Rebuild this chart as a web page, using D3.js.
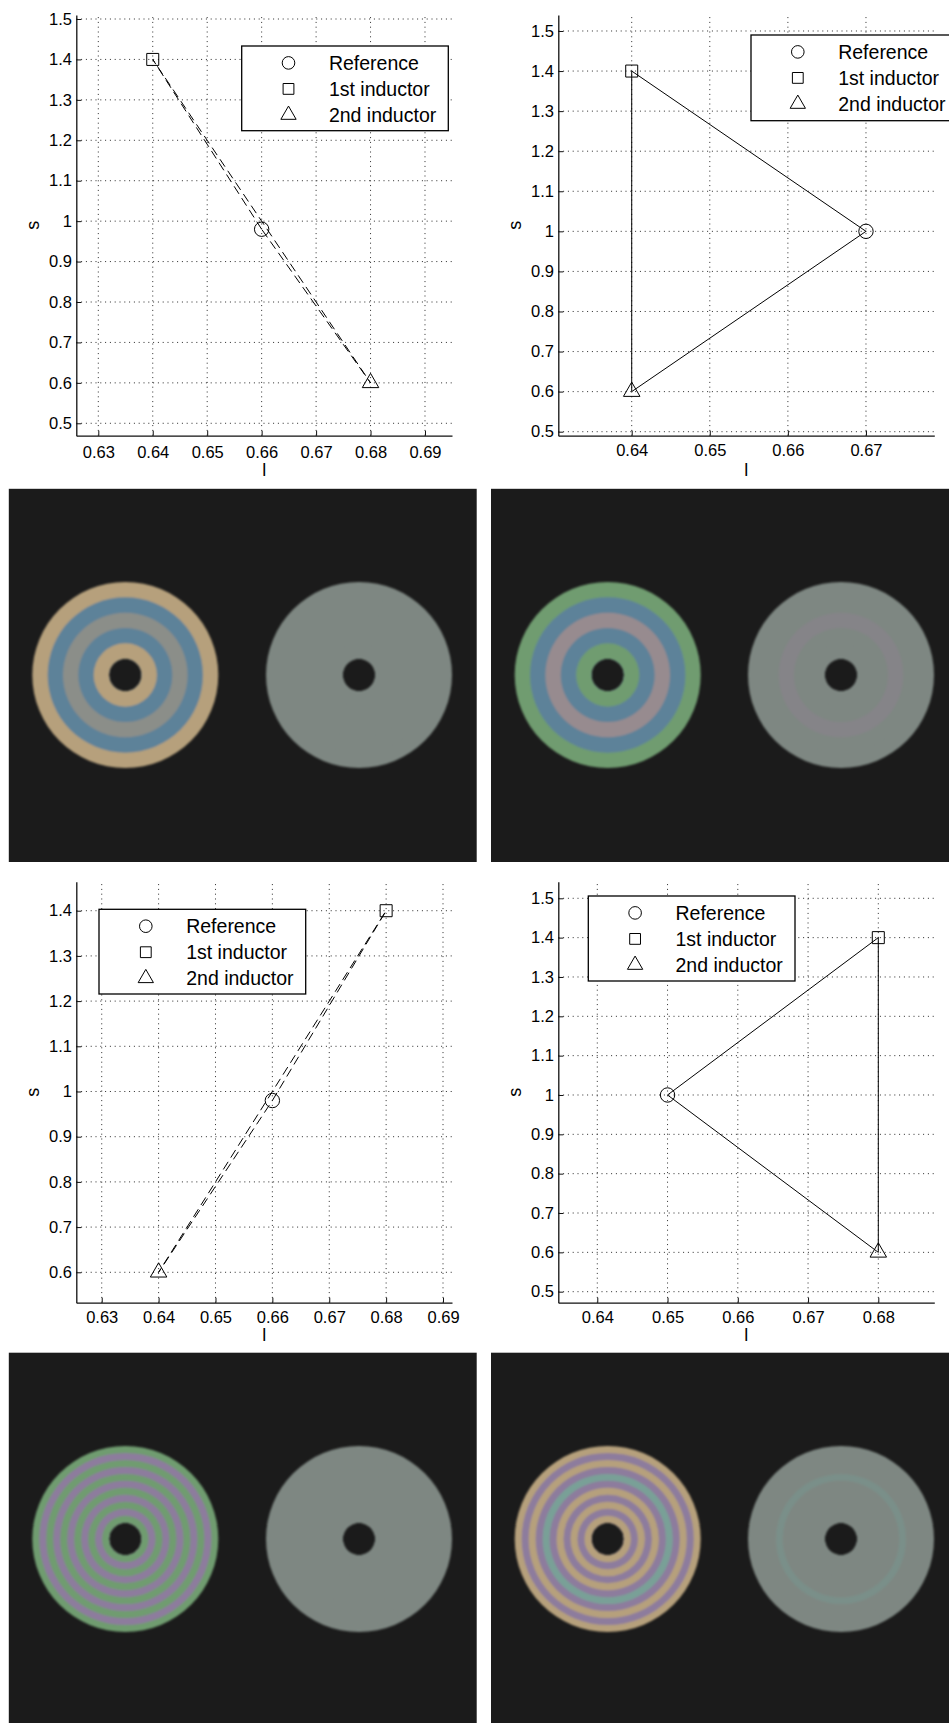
<!DOCTYPE html>
<html>
<head>
<meta charset="utf-8">
<script src="https://cdn.jsdelivr.net/npm/d3@7"></script>
<style>
  html, body { margin: 0; padding: 0; background: #fff; }
  svg { display: block; }
  text { font-family: "Liberation Sans", Arial, Helvetica, sans-serif; fill: #000; }
</style>
</head>
<body>
<svg id="fig" width="949" height="1723"></svg>
<script>
// ---- data ----------------------------------------------------------------
const seriesNames = ["Reference", "1st inductor", "2nd inductor"];
const seriesMarkers = ["circle", "square", "triangle"];

// operating points (l, s) for reference, 1st inductor, 2nd inductor
const lTopLeft = [0.66, 0.64, 0.68];
const sTopLeft = [0.98, 1.4, 0.6];
const lTopRight = [0.67, 0.64, 0.64];
const sTopRight = [1.0, 1.4, 0.6];
const lBottomLeft = [0.66, 0.68, 0.64];
const sBottomLeft = [0.98, 1.4, 0.6];
const lBottomRight = [0.65, 0.68, 0.68];
const sBottomRight = [1.0, 1.4, 0.6];

// tick values
const lTicksTopLeft = [0.63, 0.64, 0.65, 0.66, 0.67, 0.68, 0.69];
const sTicksTopLeft = [0.5, 0.6, 0.7, 0.8, 0.9, 1, 1.1, 1.2, 1.3, 1.4, 1.5];
const lTicksTopRight = [0.64, 0.65, 0.66, 0.67];
const sTicksTopRight = [0.5, 0.6, 0.7, 0.8, 0.9, 1, 1.1, 1.2, 1.3, 1.4, 1.5];
const lTicksBottomLeft = [0.63, 0.64, 0.65, 0.66, 0.67, 0.68, 0.69];
const sTicksBottomLeft = [0.6, 0.7, 0.8, 0.9, 1, 1.1, 1.2, 1.3, 1.4];
const lTicksBottomRight = [0.64, 0.65, 0.66, 0.67, 0.68];
const sTicksBottomRight = [0.5, 0.6, 0.7, 0.8, 0.9, 1, 1.1, 1.2, 1.3, 1.4, 1.5];

// ring bands of each disc, listed from the outer edge inwards
const discLeftA = ["tan", "blue", "gray", "blue", "tan"];
const discRightA = ["neutral", "neutral", "neutral", "neutral", "neutral"];
const discLeftB = ["green", "blue", "pink", "blue", "green"];
const discRightB = ["neutral", "neutral", "pinkTrace", "neutral", "neutral"];
const discLeftC = ["green", "purple", "green", "purple", "green", "purple", "green", "purple", "green", "purple", "green"];
const discRightC = ["neutral", "neutral", "neutral", "neutral", "neutral", "neutral", "neutral", "neutral", "neutral", "neutral", "neutral"];
const discLeftD = ["tan", "purple", "tan", "purple", "teal", "purple", "tan", "purple", "tan", "purple", "tan"];
const discRightD = ["neutral", "neutral", "neutral", "neutral", "tealTrace", "neutral", "neutral", "neutral", "neutral", "neutral", "neutral"];

// ---- styles --------------------------------------------------------------
const bandColor = {
  tan: "#b6a07c", blue: "#5d8299", gray: "#8b8e89", neutral: "#7e8782",
  green: "#6f9c70", pink: "#978b8f", pinkTrace: "#858488",
  purple: "#8d7b9d", teal: "#79a097", tealTrace: "#7a8f89"
};
const darkBg = "#1b1b1b";

const svg = d3.select("#fig");
const defs = svg.append("defs");
defs.append("filter").attr("id", "soft")
  .append("feGaussianBlur").attr("stdDeviation", 0.9);

// ---- line plots ----------------------------------------------------------
const plots = [
  { l: lTopLeft, s: sTopLeft, lTicks: lTicksTopLeft, sTicks: sTicksTopLeft, dashed: true,
    left: 76.3, right: 452, top: 15, bottom: 435.7,
    xDomain: [0.62596, 0.69496], yDomain: [0.4693, 1.5099],
    xPad: 10.2, xLabelBase: 40, legend: [241.7, 46, 206.6, 84.7] },
  { l: lTopRight, s: sTopRight, lTicks: lTicksTopRight, sTicks: sTicksTopRight, dashed: false,
    left: 558.3, right: 934.3, top: 15, bottom: 435.7,
    xDomain: [0.6306, 0.67875], yDomain: [0.49, 1.5399],
    xPad: 8.5, xLabelBase: 40, legend: [751, 35, 207, 85.7] },
  { l: lBottomLeft, s: sBottomLeft, lTicks: lTicksBottomLeft, sTicks: sTicksBottomLeft, dashed: true,
    left: 76.3, right: 452, top: 881.7, bottom: 1302.7,
    xDomain: [0.62553, 0.69158], yDomain: [0.5327, 1.4642],
    xPad: 8.2, xLabelBase: 38, legend: [99, 909.3, 206.7, 84.7] },
  { l: lBottomRight, s: sBottomRight, lTicks: lTicksBottomRight, sTicks: sTicksBottomRight, dashed: false,
    left: 558.3, right: 934.3, top: 881.7, bottom: 1302.7,
    xDomain: [0.63445, 0.68797], yDomain: [0.472, 1.5422],
    xPad: 8.2, xLabelBase: 38, legend: [588.3, 896, 206.7, 85] }
];

const symbolType = { circle: d3.symbolCircle, square: d3.symbolSquare, triangle: d3.symbolTriangle };
const dataSize = { circle: Math.PI * 7.2 * 7.2, square: 12 * 12, triangle: 16.5 * 16.5 * Math.sqrt(3) / 4 };
const legendSize = { circle: Math.PI * 6.3 * 6.3, square: 10.8 * 10.8, triangle: 15.3 * 15.3 * Math.sqrt(3) / 4 };
const fmtL = d3.format(".2f");
const fmtS = d3.format("~g");

plots.forEach(p => {
  const g = svg.append("g");
  const x = d3.scaleLinear().domain(p.xDomain).range([p.left, p.right]);
  const y = d3.scaleLinear().domain(p.yDomain).range([p.bottom, p.top]);

  // dotted grid
  const grid = g.append("g").attr("stroke", "#2a2a2a").attr("stroke-width", 1)
    .attr("stroke-dasharray", "1,3.8");
  grid.selectAll("line.h").data(p.sTicks).join("line").attr("class", "h")
    .attr("x1", p.left).attr("x2", p.right)
    .attr("y1", d => y(d)).attr("y2", d => y(d));
  grid.selectAll("line.v").data(p.lTicks).join("line").attr("class", "v")
    .attr("x1", d => x(d)).attr("x2", d => x(d))
    .attr("y1", p.bottom).attr("y2", p.top);

  // connecting lines between the three points
  const pts = p.l.map((l, i) => ({ l, s: p.s[i], marker: seriesMarkers[i] }));
  g.append("path").datum(pts)
    .attr("d", d3.line().x(d => x(d.l)).y(d => y(d.s)).curve(d3.curveLinearClosed))
    .attr("fill", "none").attr("stroke", "#000").attr("stroke-width", 1)
    .attr("stroke-dasharray", p.dashed ? "9,5" : null);

  // markers
  g.selectAll("path.mk").data(pts).join("path").attr("class", "mk")
    .attr("transform", d => `translate(${x(d.l)},${y(d.s)})`)
    .attr("d", d => d3.symbol(symbolType[d.marker], dataSize[d.marker])())
    .attr("fill", "none").attr("stroke", "#000").attr("stroke-width", 1);

  // axes
  const ay = g.append("g").attr("transform", `translate(${p.left},0)`)
    .call(d3.axisLeft(y).tickValues(p.sTicks).tickFormat(fmtS)
      .tickSizeInner(-5).tickSizeOuter(0).tickPadding(4.4));
  const ax = g.append("g").attr("transform", `translate(0,${p.bottom})`)
    .call(d3.axisBottom(x).tickValues(p.lTicks).tickFormat(fmtL)
      .tickSizeInner(-5).tickSizeOuter(0).tickPadding(p.xPad));
  [ay, ax].forEach(a => {
    a.attr("font-family", null).attr("font-size", null);
    a.select(".domain").attr("stroke", "#111").attr("stroke-width", 1.3);
    a.selectAll(".tick line").attr("stroke", "#111").attr("stroke-width", 1);
    a.selectAll(".tick text").style("font-size", "16.5px").attr("fill", "#000");
  });

  // axis titles
  g.append("text")
    .attr("transform", `translate(${p.left - 37.8},${(p.top + p.bottom) / 2}) rotate(-90)`)
    .attr("text-anchor", "middle").style("font-size", "18px").text("s");
  g.append("text")
    .attr("x", (p.left + p.right) / 2).attr("y", p.bottom + p.xLabelBase)
    .attr("text-anchor", "middle").style("font-size", "18px").text("l");

  // legend
  const [lx, ly, lw, lh] = p.legend;
  const lg = g.append("g").attr("transform", `translate(${lx},${ly})`);
  lg.append("rect").attr("width", lw).attr("height", lh)
    .attr("fill", "#fff").attr("stroke", "#000").attr("stroke-width", 1.3);
  const rows = lg.selectAll("g.row").data(seriesNames).join("g").attr("class", "row")
    .attr("transform", (d, i) => `translate(0,${16.9 + i * 26})`);
  rows.append("path")
    .attr("transform", "translate(46.8,0)")
    .attr("d", (d, i) => d3.symbol(symbolType[seriesMarkers[i]], legendSize[seriesMarkers[i]])())
    .attr("fill", "none").attr("stroke", "#000").attr("stroke-width", 1);
  rows.append("text").attr("x", 87.2).attr("y", 6.9)
    .style("font-size", "19.5px").text(d => d);
});

// ---- disc panels ---------------------------------------------------------
const discPanels = [
  { bands: [discLeftA, discRightA], x: 8.8, y: 488.8, w: 467.9, h: 373.2, centers: [[125.3, 675], [359, 675]] },
  { bands: [discLeftB, discRightB], x: 491, y: 488.8, w: 458, h: 373.2, centers: [[607.7, 675], [841, 675]] },
  { bands: [discLeftC, discRightC], x: 8.8, y: 1352.7, w: 467.9, h: 370.3, centers: [[125.3, 1539], [359, 1539]] },
  { bands: [discLeftD, discRightD], x: 491, y: 1352.7, w: 458, h: 370.3, centers: [[607.7, 1539], [841, 1539]] }
];
const outerR = 93, holeR = 16.3;

discPanels.forEach(dp => {
  const g = svg.append("g");
  g.append("rect").attr("x", dp.x).attr("y", dp.y).attr("width", dp.w).attr("height", dp.h)
    .attr("fill", darkBg);
  dp.bands.forEach((bands, k) => {
    const r = d3.scaleLinear().domain([0, bands.length]).range([outerR, holeR]);
    // each band is drawn as a full annulus down to the hole, outermost first,
    // so the next band covers it and no seams show between rings
    const arc = d3.arc().startAngle(0).endAngle(2 * Math.PI)
      .outerRadius((d, i) => r(i)).innerRadius(holeR);
    g.append("g")
      .attr("transform", `translate(${dp.centers[k][0]},${dp.centers[k][1]})`)
      .attr("filter", "url(#soft)")
      .selectAll("path").data(bands).join("path")
      .attr("d", (d, i) => arc(d, i))
      .attr("fill", d => bandColor[d]);
  });
});
</script>
</body>
</html>
